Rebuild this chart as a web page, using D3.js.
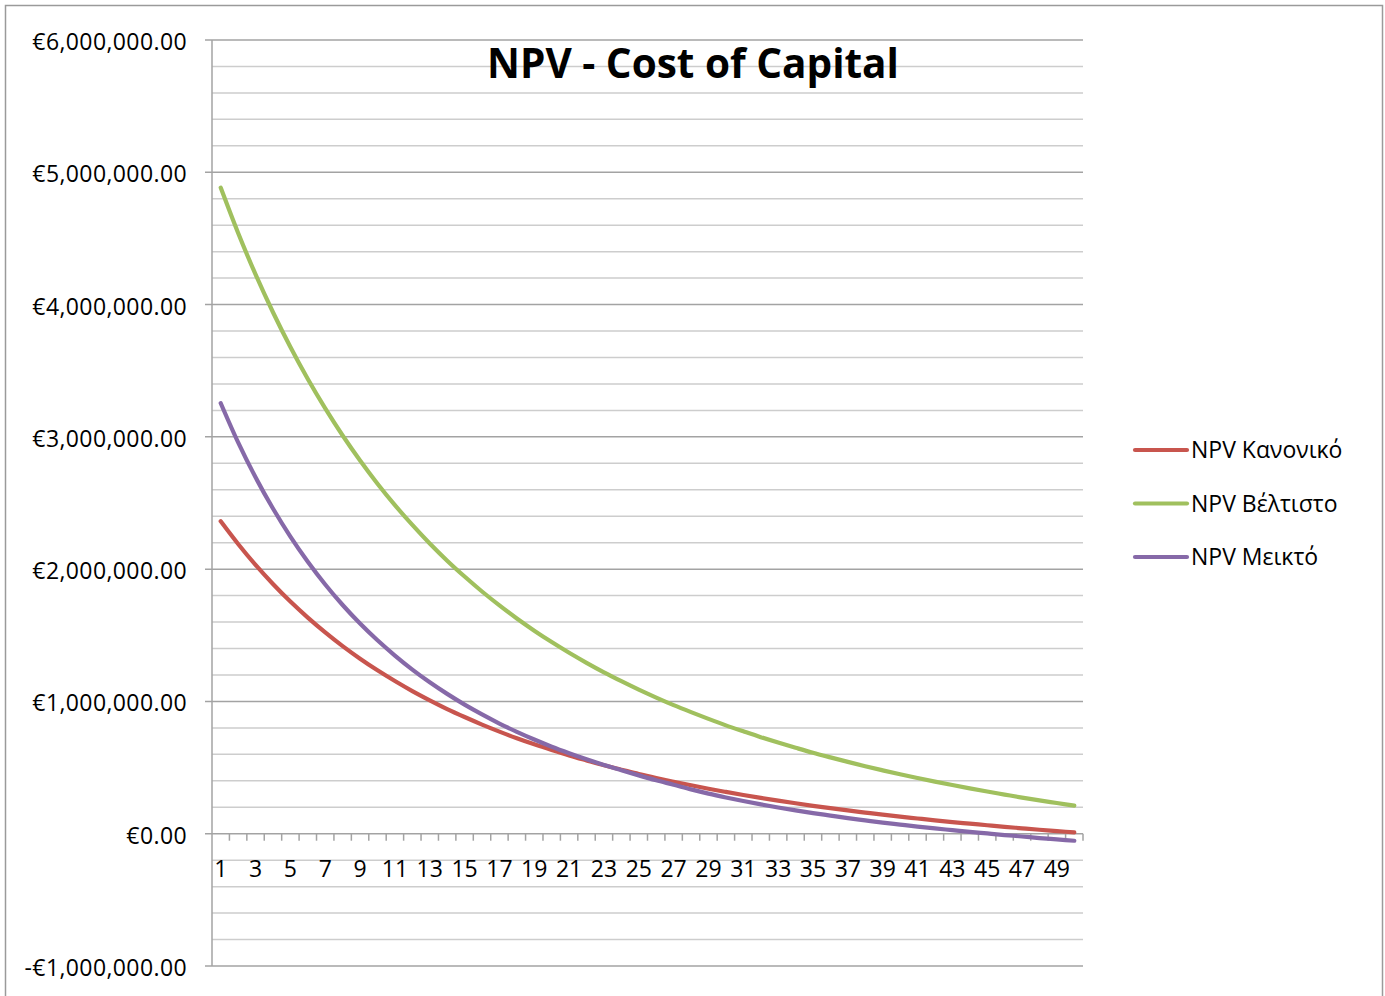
<!DOCTYPE html>
<html>
<head>
<meta charset="utf-8">
<script src="https://cdn.jsdelivr.net/npm/d3@7"></script>
<style>
  body { margin: 0; background: #fff; }
  svg text { font-family: "Open Sans", "Liberation Sans", sans-serif; fill: #000; }
</style>
</head>
<body>
<div id="chart"></div>
<script>
// cost of capital, % (category axis 1..50)
var rates = d3.range(1, 51);

var npvNormal = [
  2362000, 2190000, 2032000, 1888000, 1755000, 1634000, 1522000, 1418000, 1323000, 1235000,
  1154000, 1078000, 1008000, 942000, 882000, 825000, 772000, 722000, 676000, 633000,
  592000, 554000, 517000, 484000, 451000, 421000, 393000, 366000, 340000, 316000,
  293000, 271000, 250000, 230000, 211000, 194000, 176000, 160000, 144000, 129000,
  115000, 101000, 88000, 76000, 64000, 52000, 41000, 30000, 20000, 10000
];
var npvBest = [
  4884000, 4541000, 4228000, 3942000, 3679000, 3437000, 3215000, 3010000, 2821000, 2646000,
  2484000, 2334000, 2194000, 2064000, 1944000, 1831000, 1726000, 1627000, 1535000, 1449000,
  1368000, 1292000, 1220000, 1153000, 1089000, 1029000, 972000, 919000, 868000, 819000,
  774000, 730000, 689000, 650000, 612000, 577000, 543000, 510000, 479000, 449000,
  421000, 394000, 368000, 343000, 319000, 296000, 273000, 252000, 232000, 212000
];
var npvMixed = [
  3255000, 2958000, 2694000, 2458000, 2246000, 2056000, 1884000, 1729000, 1589000, 1462000,
  1347000, 1241000, 1145000, 1057000, 976000, 902000, 833000, 770000, 712000, 658000,
  609000, 563000, 520000, 480000, 441000, 404000, 370000, 335000, 303000, 274000,
  247000, 222000, 198000, 176000, 156000, 137000, 118000, 101000, 84000, 69000,
  54000, 40000, 27000, 14000, 2000, -10000, -21000, -33000, -43000, -53000
];

var seriesNames = ["NPV Κανονικό", "NPV Βέλτιστο", "NPV Μεικτό"];
var seriesColors = ["#c8554e", "#a0c05e", "#8669a8"];
var yTicks = [-1000000, 0, 1000000, 2000000, 3000000, 4000000, 5000000, 6000000];

var width = 1385, height = 996;
var plot = { left: 212, right: 1083, top: 40, bottom: 966 };

var svg = d3.select("#chart").append("svg")
  .attr("width", width)
  .attr("height", height);

// chart frame
svg.append("rect")
  .attr("x", 5.5).attr("y", 5.5)
  .attr("width", 1377).attr("height", 1010)
  .attr("fill", "none")
  .attr("stroke", "#9a9a9a")
  .attr("stroke-width", 1.5);

var x = d3.scaleBand().domain(rates).range([plot.left, plot.right]).padding(0);
var y = d3.scaleLinear().domain([-1000000, 6000000]).range([plot.bottom, plot.top]);

// minor gridlines every 200k
var minor = d3.range(-1000000, 6000001, 200000).filter(function(v) { return v % 1000000 !== 0; });
svg.append("g").selectAll("line").data(minor).enter().append("line")
  .attr("x1", plot.left).attr("x2", plot.right)
  .attr("y1", function(d) { return y(d); }).attr("y2", function(d) { return y(d); })
  .attr("stroke", "#cdcdcd").attr("stroke-width", 1.5);

// major gridlines
svg.append("g").selectAll("line").data(yTicks).enter().append("line")
  .attr("x1", plot.left - 7).attr("x2", plot.right)
  .attr("y1", function(d) { return y(d); }).attr("y2", function(d) { return y(d); })
  .attr("stroke", "#a3a3a3").attr("stroke-width", 1.5);

// y axis
svg.append("line")
  .attr("x1", plot.left).attr("x2", plot.left)
  .attr("y1", plot.top).attr("y2", plot.bottom)
  .attr("stroke", "#a3a3a3").attr("stroke-width", 1.5);

var euro = d3.format(",.2f");
svg.append("g").selectAll("text").data(yTicks).enter().append("text")
  .attr("x", 187)
  .attr("y", function(d) { return y(d) + 10; })
  .attr("text-anchor", "end")
  .style("font-size", "23px")
  .style("letter-spacing", "0.4px")
  .text(function(d) { return (d < 0 ? "-€" : "€") + euro(Math.abs(d)); });

// x axis ticks between categories, at the zero line
var y0 = y(0);
svg.append("g").selectAll("line").data(rates).enter().append("line")
  .attr("x1", function(d) { return x(d) + x.bandwidth(); })
  .attr("x2", function(d) { return x(d) + x.bandwidth(); })
  .attr("y1", y0).attr("y2", y0 + 7)
  .attr("stroke", "#a3a3a3").attr("stroke-width", 1.5);

svg.append("g").selectAll("text").data(rates.filter(function(d) { return d % 2 === 1; })).enter().append("text")
  .attr("x", function(d) { return x(d) + x.bandwidth() / 2; })
  .attr("y", y0 + 43)
  .attr("text-anchor", "middle")
  .style("font-size", "23px")
  .text(function(d) { return d; });

// title (sits over the gridlines like the original)
svg.append("text")
  .attr("x", 693).attr("y", 78)
  .attr("text-anchor", "middle")
  .style("font-size", "40.5px")
  .style("font-weight", "bold")
  .text("NPV - Cost of Capital");

// series lines
var line = d3.line()
  .x(function(d, i) { return x(rates[i]) + x.bandwidth() / 2; })
  .y(function(d) { return y(d); })
  .curve(d3.curveMonotoneX);

[npvNormal, npvBest, npvMixed].forEach(function(s, i) {
  svg.append("path")
    .datum(s)
    .attr("d", line)
    .attr("fill", "none")
    .attr("stroke", seriesColors[i])
    .attr("stroke-width", 4.2)
    .attr("stroke-linecap", "round")
    .attr("stroke-linejoin", "round");
});

// legend
var legend = svg.append("g").selectAll("g").data(seriesNames).enter().append("g")
  .attr("transform", function(d, i) { return "translate(1133," + (450 + i * 53.5) + ")"; });
legend.append("line")
  .attr("x1", 2).attr("x2", 54)
  .attr("stroke", function(d, i) { return seriesColors[i]; })
  .attr("stroke-width", 4.2)
  .attr("stroke-linecap", "round");
legend.append("text")
  .attr("x", 58).attr("y", 8)
  .style("font-size", "23px")
  .text(function(d) { return d; });
</script>
</body>
</html>
